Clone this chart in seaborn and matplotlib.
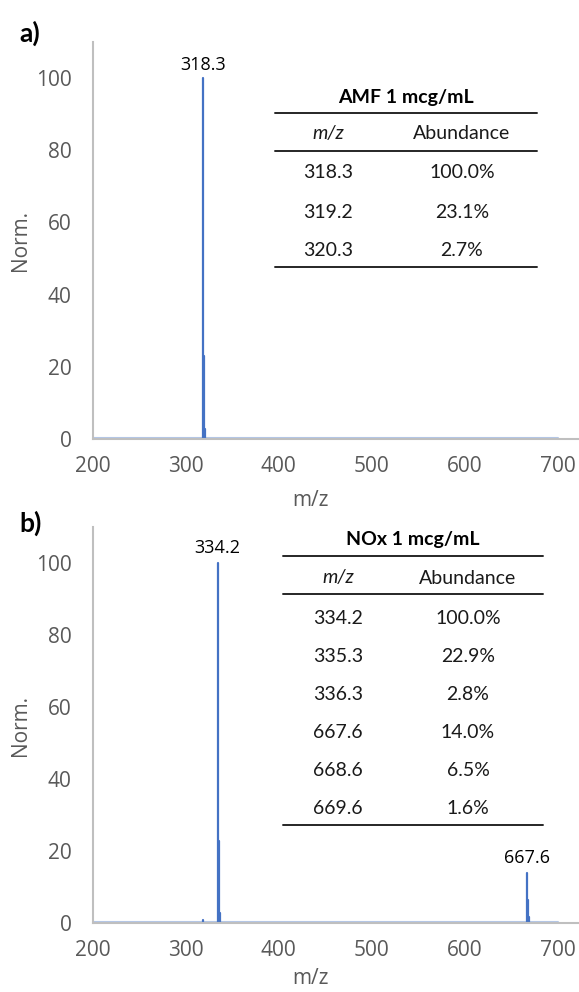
import matplotlib
matplotlib.use("Agg")
import matplotlib.pyplot as plt
from matplotlib.lines import Line2D
import seaborn as sns
import pandas as pd

# ---------------- data ----------------
amf_mz = [318.3, 319.2, 320.3]
amf_abund = [100.0, 23.1, 2.7]
amf_mz_labels = ["318.3", "319.2", "320.3"]
amf_abund_labels = ["100.0%", "23.1%", "2.7%"]

nox_mz = [318.3, 334.2, 335.3, 336.3, 667.6, 668.6, 669.6]
nox_abund = [0.8, 100.0, 22.9, 2.8, 14.0, 6.5, 1.6]
nox_tab_mz = ["334.2", "335.3", "336.3", "667.6", "668.6", "669.6"]
nox_tab_abund = ["100.0%", "22.9%", "2.8%", "14.0%", "6.5%", "1.6%"]

noise_mz = [200, 700]
noise_level = [0.35, 0.35]

x_ticks = [200, 300, 400, 500, 600, 700]
y_ticks = [0, 20, 40, 60, 80, 100]

# ---------------- style ----------------
sns.set_theme(style="white")
plt.rcParams["font.family"] = ["Open Sans", "DejaVu Sans"]

W, H = 579, 992
fig = plt.figure(figsize=(W / 100, H / 100), dpi=100)

BLUE = "#4472C4"
NOISE = "#B4C7E7"
SPINE = "#BFBFBF"
TICK = "#595959"
TAB = "Lato"
TABSIZE = 14
AX_L, AX_R = 93, 578


def fx(px):
    return px / W


def fy(py):
    return 1 - py / H


def add_axes(top, bottom):
    return fig.add_axes([fx(AX_L), fy(bottom), fx(AX_R) - fx(AX_L), fy(top) - fy(bottom)])


def stick_frame(mz, ab):
    rows = []
    for i, (m, a) in enumerate(zip(mz, ab)):
        rows.append({"mz": m, "y": 0.0, "peak": i})
        rows.append({"mz": m, "y": a, "peak": i})
    return pd.DataFrame(rows)


def style_axes(ax, top, bottom, xlab_off):
    ax.set_xlim(200, 722)
    ax.set_ylim(0, 110)
    ax.set_xticks(x_ticks)
    ax.set_yticks(y_ticks)
    sns.despine(ax=ax)
    for s in ["left", "bottom"]:
        ax.spines[s].set_color(SPINE)
        ax.spines[s].set_linewidth(1.5)
    ax.tick_params(axis="both", colors=SPINE, labelcolor=TICK, labelsize=15,
                   direction="out", length=5, width=1.5)
    ax.tick_params(axis="y", pad=10.5)
    ax.tick_params(axis="x", pad=7)
    hpx = bottom - top
    wpx = AX_R - AX_L
    ax.set_xlabel("m/z", color=TICK, fontsize=15, va="center", ha="center")
    ax.xaxis.set_label_coords((310 - AX_L) / wpx, -xlab_off / hpx)
    ax.set_ylabel("Norm.", color=TICK, fontsize=15, va="center", ha="center")
    ax.yaxis.set_label_coords((21 - AX_L) / wpx, 0.5)
    ax.grid(False)


def draw_spectrum(ax, mz, ab):
    nd = pd.DataFrame({"mz": noise_mz, "y": noise_level})
    sns.lineplot(data=nd, x="mz", y="y", ax=ax, color=NOISE, lw=1.5, legend=False)
    df = stick_frame(mz, ab)
    sns.lineplot(data=df, x="mz", y="y", units="peak", estimator=None, sort=False,
                 ax=ax, color=BLUE, lw=1.6, legend=False)


def draw_table(title, mzs, abds, x0, x1, title_y, top_y, head_y, hline_y, rows_y, bot_y, cm, ca):
    fig.text(fx((x0 + x1) / 2), fy(title_y), title, ha="center", va="center",
             fontsize=TABSIZE, fontweight="bold", family=TAB, color="black")
    for yy in (top_y, hline_y, bot_y):
        fig.add_artist(Line2D([fx(x0), fx(x1)], [fy(yy), fy(yy)], color="#262626",
                              lw=1.4, transform=fig.transFigure))
    fig.text(fx(cm), fy(head_y), "m/z", ha="center", va="center", fontsize=TABSIZE,
             style="italic", family=TAB, color="#1a1a1a")
    fig.text(fx(ca), fy(head_y), "Abundance", ha="center", va="center", fontsize=TABSIZE,
             family=TAB, color="#1a1a1a")
    for yy, m, a in zip(rows_y, mzs, abds):
        fig.text(fx(cm), fy(yy), m, ha="center", va="center", fontsize=TABSIZE,
                 family=TAB, color="#1a1a1a")
        fig.text(fx(ca), fy(yy), a, ha="center", va="center", fontsize=TABSIZE,
                 family=TAB, color="#1a1a1a")


# ---------------- panel a ----------------
ax1 = add_axes(42, 439)
draw_spectrum(ax1, amf_mz, amf_abund)
style_axes(ax1, 42, 439, 61)
ax1.annotate(f"{amf_mz[0]}", xy=(amf_mz[0], amf_abund[0]), xytext=(0, 3),
             textcoords="offset points", ha="center", va="bottom",
             fontsize=13, color="black")
fig.text(fx(19), fy(33), "a)", fontsize=19, fontweight="bold", family=TAB,
         ha="left", va="center", color="black")
draw_table("AMF 1 mcg/mL", amf_mz_labels, amf_abund_labels, 275, 537,
           97, 113, 134, 151, [173, 212, 251], 267, 328, 462)

# ---------------- panel b ----------------
ax2 = add_axes(527, 923)
draw_spectrum(ax2, nox_mz, nox_abund)
style_axes(ax2, 527, 923, 56)
for i in (1, 4):
    ax2.annotate(f"{nox_mz[i]}", xy=(nox_mz[i], nox_abund[i]), xytext=(0, 4),
                 textcoords="offset points", ha="center", va="bottom",
                 fontsize=13, color="black")
fig.text(fx(19), fy(523), "b)", fontsize=19, fontweight="bold", family=TAB,
         ha="left", va="center", color="black")
draw_table("NOx 1 mcg/mL", nox_tab_mz, nox_tab_abund, 283, 543,
           540, 556, 578, 594, [618, 657, 694, 733, 771, 809], 825, 338, 468)

fig.savefig("out.png", dpi=100, facecolor="white")
